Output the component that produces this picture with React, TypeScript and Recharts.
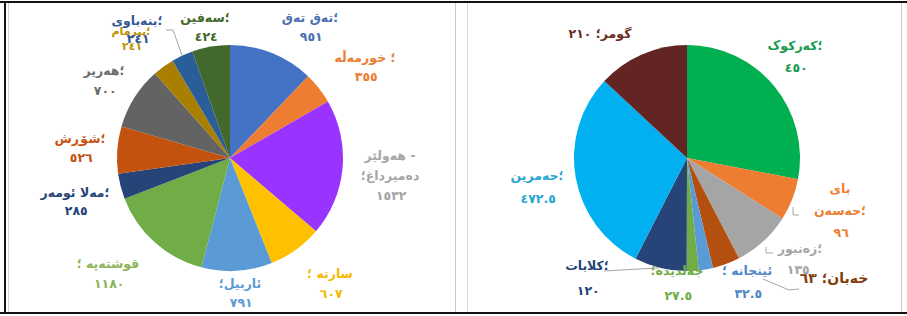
import React from "react";
import { PieChart, Pie, Cell } from "recharts";

const LRM = "\u200E";
const toArabicDigits = (v: number) =>
  String(v).replace(/\d/g, (d) => "٠١٢٣٤٥٦٧٨٩"[Number(d)]);

// ---- Left pie data ----
const leftNames = [
  `تەق تەق${LRM}؛`,
  `خورمەڵە ${LRM}؛`,
  "هەولێر -\nدەمیرداغ؛",
  "سارتە ؛",
  "ئاربیل؛",
  "قوشتەپە ؛",
  `مەلا ئومەر${LRM}؛`,
  `شۆڕش${LRM}؛`,
  `هەریر${LRM}؛`,
  `پیرمام${LRM}؛`,
  `بنەباوی${LRM}؛`,
  `سەفین${LRM}؛`,
];
const leftValues = [951, 355, 1532, 607, 791, 1180, 285, 526, 700, 241, 241, 424];
const leftColors = [
  "#4472C4", "#ED7D31", "#9933FF", "#FFC000", "#5B9BD5", "#70AD47",
  "#264478", "#C4520F", "#636363", "#A97F00", "#2A5E9B", "#43682B",
];
const leftLabelColors = [
  "#4a6fb0", "#ED7D31", "#a6a6a6", "#F5B800", "#5B9BD5", "#8DB45A",
  "#264478", "#C4520F", "#6b6b6b", "#BF9000", "#2F5597", "#43682B",
];

// ---- Right pie data ----
const rightNames = [
  `کەرکوک${LRM}؛`,
  `بای\nحەسەن${LRM}؛`,
  `زەنبور${LRM}؛`,
  "خەبان؛",
  "ئینجانە ؛",
  "جەلدیدە؛",
  `کلابات${LRM}؛`,
  `حەمرین${LRM}؛`,
  "گومر؛",
];
const rightValues = [450, 96, 135, 63, 32.5, 27.5, 120, 472.5, 210];
const rightColors = [
  "#00B050", "#ED7D31", "#A5A5A5", "#B4500F", "#5B9BD5", "#70AD47",
  "#264478", "#00B0F0", "#632523",
];
const rightLabelColors = [
  "#1a9a50", "#ED7D31", "#a5a5a5", "#843C0C", "#4f86c6", "#70AD47",
  "#264478", "#2aa6d4", "#6b2e1f",
];

const leftData = leftNames.map((name, i) => ({ name, value: leftValues[i] }));
const rightData = rightNames.map((name, i) => ({ name, value: rightValues[i] }));

// ---- label layout (offsets from pie centre) ----
type Pt = [number, number] | "edge";
type LabelLayout = {
  dx: number;
  dy: number;
  gap: number;
  inline?: boolean;
  size?: number;
  vdx?: number;
  leader?: Pt[];
};

const leftLayout: LabelLayout[] = [
  { dx: 80, dy: -141, gap: 19 },
  { dx: 135, dy: -101, gap: 19 },
  { dx: 160, dy: -3, gap: 20 },
  { dx: 100, dy: 115, gap: 20 },
  { dx: 10, dy: 125, gap: 19 },
  { dx: -122, dy: 105, gap: 20 },
  { dx: -155, dy: 34, gap: 18 },
  { dx: -150, dy: -20, gap: 19 },
  { dx: -126, dy: -88, gap: 20 },
  { dx: -99, dy: -127, gap: 15, size: 11 },
  { dx: -93, dy: -138, gap: 18, leader: [[-64, -128], [-57, -128], "edge"] },
  { dx: -25, dy: -141, gap: 19 },
];

const rightLayout: LabelLayout[] = [
  { dx: 108, dy: -113, gap: 22 },
  { dx: 153, dy: 30, gap: 22, leader: [[106, 49], [106, 57], [112, 57]] },
  { dx: 113, dy: 90, gap: 21, vdx: -3, leader: [[79, 89], [79, 95], [86, 95]] },
  { dx: 147, dy: 120, gap: 0, inline: true, size: 14, leader: [[112, 131], [102, 132], [76, 121]] },
  { dx: 60, dy: 112, gap: 23 },
  { dx: -10, dy: 112, gap: 25 },
  { dx: -100, dy: 107, gap: 25, leader: [[-83, 113], "edge"] },
  { dx: -150, dy: 17, gap: 23 },
  { dx: -87, dy: -125, gap: 0, inline: true },
];

const RADIAN = Math.PI / 180;
const FONT = "'DejaVu Sans', 'Noto Sans', sans-serif";

const makeLabel = (layout: LabelLayout[], colors: string[]) => (props: any) => {
  const { cx, cy, midAngle, outerRadius, index, name, value } = props;
  const l = layout[index];
  const color = colors[index];
  const label = String(name ?? "");
  const valueText = toArabicDigits(Number(value));
  const nameLines = l.inline ? [`${label} ${valueText}`] : label.split("\n");
  const size = l.size ?? 12.5;
  const x = cx + l.dx;
  const y0 = cy + l.dy + size * 0.38;
  let leader: React.ReactNode = null;
  if (l.leader) {
    const pts = l.leader
      .map((p) => {
        if (p === "edge") {
          const ex = cx + outerRadius * Math.cos(-midAngle * RADIAN);
          const ey = cy + outerRadius * Math.sin(-midAngle * RADIAN);
          return `${ex},${ey}`;
        }
        return `${cx + p[0]},${cy + p[1]}`;
      })
      .join(" ");
    leader = <polyline points={pts} fill="none" stroke="#a6a6a6" strokeWidth={1} />;
  }
  const common = {
    textAnchor: "middle" as const,
    fill: color,
    fontFamily: FONT,
    fontSize: size,
    fontWeight: "bold" as const,
  };
  return (
    <g key={`lbl-${index}`}>
      {leader}
      {nameLines.map((t, i) => (
        <text key={`n${i}`} x={x} y={y0 + i * l.gap} {...common}>
          {t}
        </text>
      ))}
      {!l.inline && (
        <text
          x={x + (l.vdx ?? 0) + 1.2}
          y={y0 + nameLines.length * l.gap}
          {...common}
          letterSpacing={2.4}
        >
          {valueText}
        </text>
      )}
    </g>
  );
};

export default function App() {
  return (
    <div
      style={{
        position: "absolute",
        left: 0,
        top: 0,
        width: 907,
        height: 316,
        background: "#ffffff",
        overflow: "hidden",
      }}
    >
      <div style={{ position: "absolute", left: 0, top: 1, width: 907, height: 2, background: "#111" }} />
      <div style={{ position: "absolute", left: 0, top: 312, width: 907, height: 2, background: "#111" }} />
      <div style={{ position: "absolute", left: 4, top: 1, width: 2, height: 313, background: "#111" }} />
      <div style={{ position: "absolute", left: 8, top: 3, width: 1, height: 309, background: "#d0d0d0" }} />
      <div style={{ position: "absolute", left: 455, top: 3, width: 1, height: 309, background: "#c8c8c8" }} />
      <div style={{ position: "absolute", left: 467, top: 3, width: 1, height: 309, background: "#d8d8d8" }} />
      <div style={{ position: "absolute", left: 901, top: 3, width: 1, height: 309, background: "#c8c8c8" }} />
      <div style={{ position: "absolute", left: 0, top: 0 }}>
        <PieChart width={907} height={316} margin={{ top: 0, right: 0, bottom: 0, left: 0 }}>
          <Pie
            data={leftData}
            dataKey="value"
            nameKey="name"
            cx={230}
            cy={158}
            outerRadius={113}
            startAngle={90}
            endAngle={-270}
            stroke="none"
            isAnimationActive={false}
            labelLine={false}
            label={makeLabel(leftLayout, leftLabelColors)}
          >
            {leftData.map((_, i) => (
              <Cell key={`l-${i}`} fill={leftColors[i]} />
            ))}
          </Pie>
          <Pie
            data={rightData}
            dataKey="value"
            nameKey="name"
            cx={687}
            cy={158}
            outerRadius={113}
            startAngle={90}
            endAngle={-270}
            stroke="none"
            isAnimationActive={false}
            labelLine={false}
            label={makeLabel(rightLayout, rightLabelColors)}
          >
            {rightData.map((_, i) => (
              <Cell key={`r-${i}`} fill={rightColors[i]} />
            ))}
          </Pie>
        </PieChart>
      </div>
    </div>
  );
}
